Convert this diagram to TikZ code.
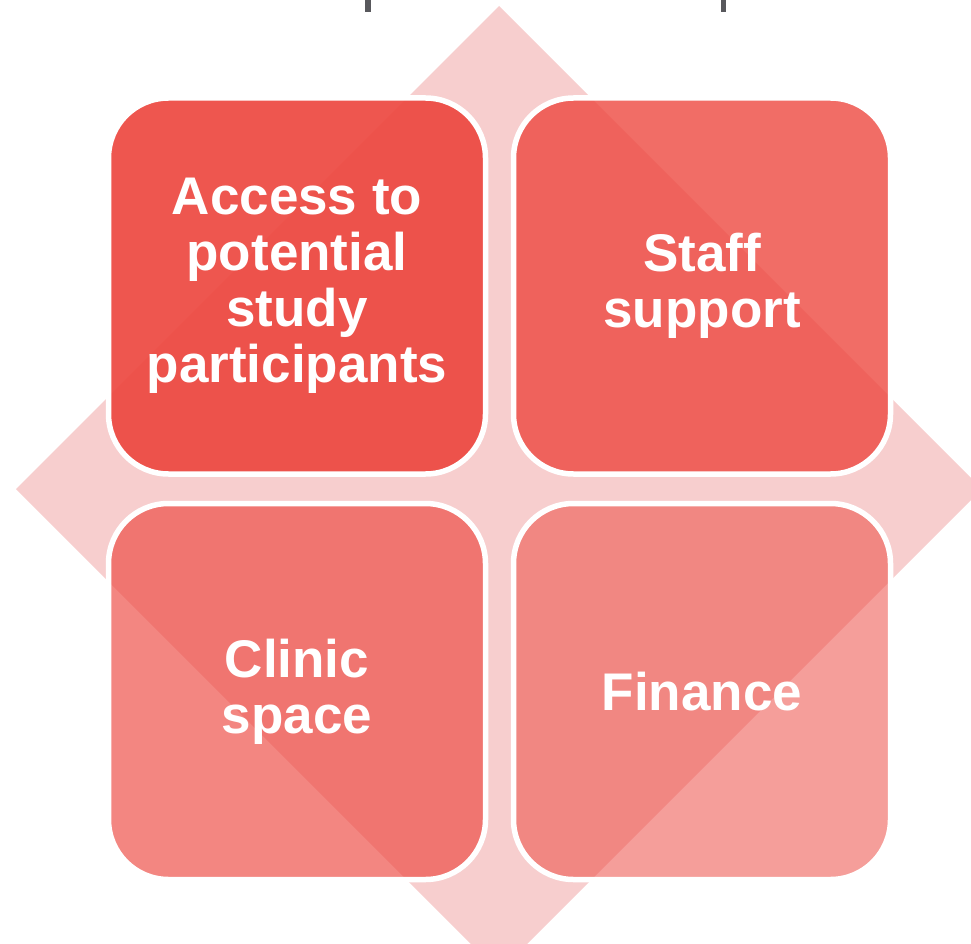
\documentclass[tikz,border=0pt]{standalone}
\usepackage{fontspec}
\setmainfont{Liberation Sans}
\definecolor{tilered}{RGB}{237,72,64}
\definecolor{diamondpink}{RGB}{247,206,206}
\definecolor{markgray}{RGB}{88,88,92}

\begin{document}
\begin{tikzpicture}[x=1pt, y=-1pt,
    tile/.style={draw=white, line width=5.5pt, fill=tilered, text opacity=1,
      rounded corners=60pt, minimum width=377pt, minimum height=376pt,
      text=white, align=center, inner sep=0pt,
      font=\fontsize{53}{56}\selectfont\bfseries}]
    \useasboundingbox (0, 0) rectangle (971, 944);
    \clip (0, 0) rectangle (971, 944);

    \fill [diamondpink] (499, 6) -- (982, 489) -- (499, 972) -- (16, 489) -- cycle;

    \fill [markgray] (365, 0) rectangle (371, 12);
    \fill [markgray] (721, 0) rectangle (726, 12);

    \node [tile, fill opacity=0.92] (access) at (297, 286) {Access to\\potential\\study\\participants};
    \node [tile, fill opacity=0.80] (staff) at (702, 286) {Staff\\support};
    \node [tile, fill opacity=0.66] (clinic) at (297, 691.5) {Clinic\\space};
    \node [tile, fill opacity=0.53] (finance) at (702, 691.5) {Finance};
\end{tikzpicture}
\end{document}
